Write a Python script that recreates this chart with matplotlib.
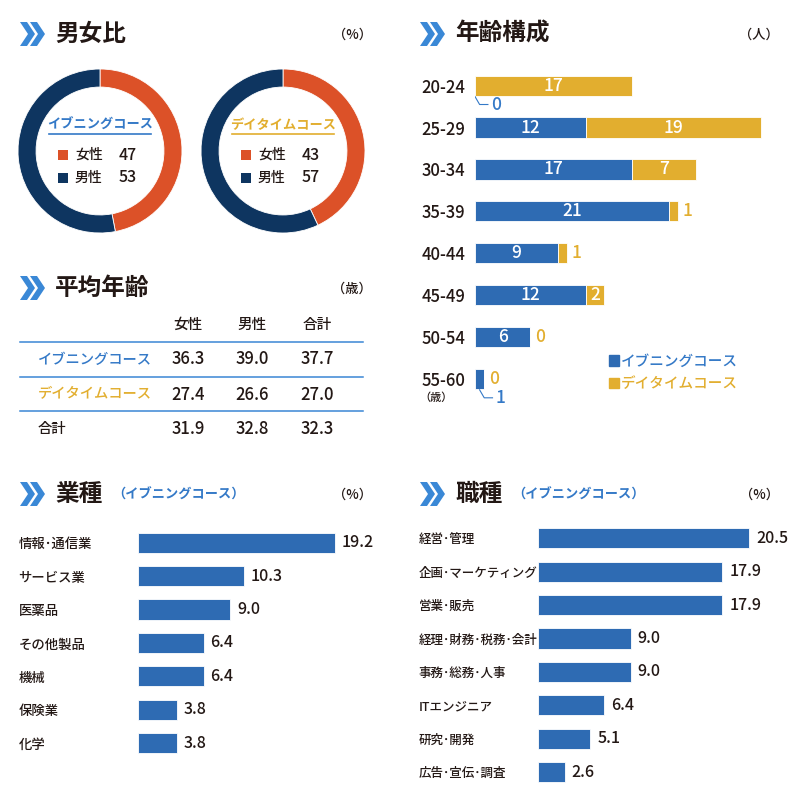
import matplotlib
matplotlib.use('Agg')
import matplotlib.pyplot as plt
from matplotlib.patches import Polygon, Rectangle, Patch

plt.rcParams['font.family'] = ['Noto Sans CJK JP', 'DejaVu Sans']
plt.rcParams['font.weight'] = 'medium'

W, H = 800, 811

# colours
BAR = '#2e6bb3'
EVE = '#3479c7'
DAY = '#e2ae2f'
ORANGE = '#dc5128'
NAVY = '#0e3560'
CHEV = '#3a88d6'
INK = '#231815'
RULE = '#3a86d4'

# ---- data ----
courses = ['イブニングコース', 'デイタイムコース']
gender_labels = ['女性', '男性']
evening_gender = [47, 53]
daytime_gender = [43, 57]

age_groups = ['20-24', '25-29', '30-34', '35-39', '40-44', '45-49', '50-54', '55-60']
age_evening = [0, 12, 17, 21, 9, 12, 6, 1]
age_daytime = [17, 19, 7, 1, 1, 2, 0, 0]

avg_cols = ['女性', '男性', '合計']
avg_rows = ['イブニングコース', 'デイタイムコース', '合計']
avg_evening = [36.3, 39.0, 37.7]
avg_daytime = [27.4, 26.6, 27.0]
avg_total = [31.9, 32.8, 32.3]

industries = ['情報･通信業', 'サービス業', '医薬品', 'その他製品', '機械', '保険業', '化学']
industry_pct = [19.2, 10.3, 9.0, 6.4, 6.4, 3.8, 3.8]

jobs = ['経営･管理', '企画･マーケティング', '営業･販売', '経理･財務･税務･会計',
        '事務･総務･人事', 'ITエンジニア', '研究･開発', '広告･宣伝･調査']
job_pct = [20.5, 17.9, 17.9, 9.0, 9.0, 6.4, 5.1, 2.6]


fig = plt.figure(figsize=(W / 100, H / 100), dpi=100)
fig.patch.set_facecolor('white')

# overlay in pixel coordinates for headings and the table
ov = fig.add_axes([0, 0, 1, 1])
ov.set_xlim(0, W)
ov.set_ylim(H, 0)
ov.axis('off')


def px_axes(x0, y0, x1, y1):
    return fig.add_axes([x0 / W, 1 - y1 / H, (x1 - x0) / W, (y1 - y0) / H])


def heading(x, y, title, unit, unit_x, sub=None):
    for dx in (0, 10):
        pts = [(x + dx, y - 12), (x + dx + 7, y - 12), (x + dx + 15, y),
               (x + dx + 7, y + 12), (x + dx, y + 12), (x + dx + 8, y)]
        ov.add_patch(Polygon(pts, closed=True, color=CHEV, lw=0))
    ov.text(x + 35, y, title, fontsize=17, fontweight='bold', color=INK,
            va='center', ha='left')
    if sub:
        ov.text(x + 92, y + 1, sub, fontsize=9.5, fontweight='bold', color=EVE,
                va='center', ha='left')
    ov.text(unit_x, y + 1, unit, fontsize=9.5, color=INK, va='center', ha='right')


heading(20, 34, '男女比', '（%）', 372)
heading(420, 34, '年齢構成', '（人）', 779)
heading(20, 288, '平均年齢', '（歳）', 372)
heading(20, 494, '業種', '（%）', 372, sub='（イブニングコース）')
heading(420, 494, '職種', '（%）', 779, sub='（イブニングコース）')

# ---- donuts ----
donut_data = [evening_gender, daytime_gender]
course_colors = [EVE, DAY]
for k, cx in enumerate([100, 283]):
    ax = px_axes(cx - 82, 69, cx + 82, 233)
    ax.pie(donut_data[k], colors=[ORANGE, NAVY], startangle=90, counterclock=False,
           wedgeprops=dict(width=0.22, edgecolor='white', linewidth=0.6))
    ax.set_xlim(-1, 1)
    ax.set_ylim(-1, 1)
    ax.set_aspect('equal')
    ax.axis('off')

    ov.text(cx, 125, courses[k], fontsize=9.5, fontweight='bold',
            color=course_colors[k], ha='center', va='center')
    ov.plot([cx - 51, cx + 51], [134, 134], color=course_colors[k], lw=1.2)
    for j, (lab, val) in enumerate(zip(gender_labels, donut_data[k])):
        yy = 155 + j * 23
        ov.add_patch(Rectangle((cx - 42, yy - 5), 10, 10, color=[ORANGE, NAVY][j], lw=0))
        ov.text(cx - 25, yy, lab, fontsize=10, color=INK, ha='left', va='center')
        ov.text(cx + 37, yy, str(val), fontsize=11.5, color=INK, ha='right', va='center')

# ---- average age table ----
col_x = [188, 252, 317]
for c, lab in zip(col_x, avg_cols):
    ov.text(c, 325, lab, fontsize=10.5, color=INK, ha='center', va='center')
for ly in [342, 376.5, 411]:
    ov.plot([20, 363], [ly, ly], color=RULE, lw=1.1)
row_colors = [EVE, DAY, INK]
for r, (lab, vals) in enumerate(zip(avg_rows, [avg_evening, avg_daytime, avg_total])):
    yy = 359.5 + r * 35
    ov.text(38, yy, lab, fontsize=10.3, color=row_colors[r], ha='left', va='center')
    for c, v in zip(col_x, vals):
        ov.text(c, yy, '%.1f' % v, fontsize=12, color=INK, ha='center', va='center')

# ---- age composition ----
ax = px_axes(475, 64.7, 790, 399.9)
ypos = list(range(len(age_groups)))
ax.barh(ypos, age_evening, height=0.48, color=BAR, edgecolor='white', linewidth=0.6)
ax.barh(ypos, age_daytime, left=age_evening, height=0.48, color=DAY,
        edgecolor='white', linewidth=0.6)
ax.set_xlim(0, 315 / 9.22)
ax.set_ylim(len(age_groups) - 0.5, -0.5)
ax.set_yticks(ypos, age_groups)
ax.tick_params(axis='y', length=0, pad=7, labelsize=12, labelcolor=INK)
ax.set_xticks([])
for s in ax.spines.values():
    s.set_visible(False)

for i, (e, d) in enumerate(zip(age_evening, age_daytime)):
    if e >= 2:
        ax.text(e / 2, i, str(e), color='white', fontsize=12.5, ha='center', va='center')
    else:
        x0 = e / 2
        ax.plot([x0, x0 + 0.5, x0 + 1.4], [i + 0.26, i + 0.45, i + 0.45], color=EVE, lw=0.8)
        ax.text(x0 + 1.7, i + 0.45, str(e), color=EVE, fontsize=12.5, ha='left', va='center')
    if d >= 2:
        ax.text(e + d / 2, i, str(d), color='white', fontsize=12.5, ha='center', va='center')
    else:
        ax.text(e + d + 0.5, i, str(d), color=DAY, fontsize=12.5, ha='left', va='center')

ax.legend(handles=[Patch(color=BAR), Patch(color=DAY)], labels=courses,
          loc='upper left', bbox_to_anchor=(0.426, 0.135), frameon=False,
          fontsize=10.5, labelcolor=[EVE, DAY], handlelength=0.7, handleheight=0.7,
          handletextpad=0.12, borderpad=0, borderaxespad=0, labelspacing=0.6)
ov.text(419, 398, '（歳）', fontsize=8, color=INK, ha='left', va='center')


def pct_bars(box, names, vals, xmax, size):
    a = px_axes(*box)
    y = list(range(len(names)))
    bars = a.barh(y, vals, height=0.6, color=BAR, edgecolor='white', linewidth=0.6)
    a.set_xlim(0, xmax)
    a.set_ylim(len(names) - 0.5, -0.5)
    a.set_yticks(y, names)
    a.tick_params(axis='y', length=0, pad=86, labelsize=size, labelcolor=INK)
    for t in a.get_yticklabels():
        t.set_ha('left')
    a.set_xticks([])
    for s in a.spines.values():
        s.set_visible(False)
    a.bar_label(bars, labels=['%.1f' % v for v in vals], padding=5,
                fontsize=11.5, color=INK)
    return a


# ---- industry ----
pct_bars((138, 526, 390, 759.8), industries, industry_pct, 252 / 10.26, 9.6)

# ---- occupation ----
pct_bars((538, 521.6, 790, 788.8), jobs, job_pct, 252 / 10.29, 9.0)

fig.savefig('out.png', dpi=100, facecolor='white')
